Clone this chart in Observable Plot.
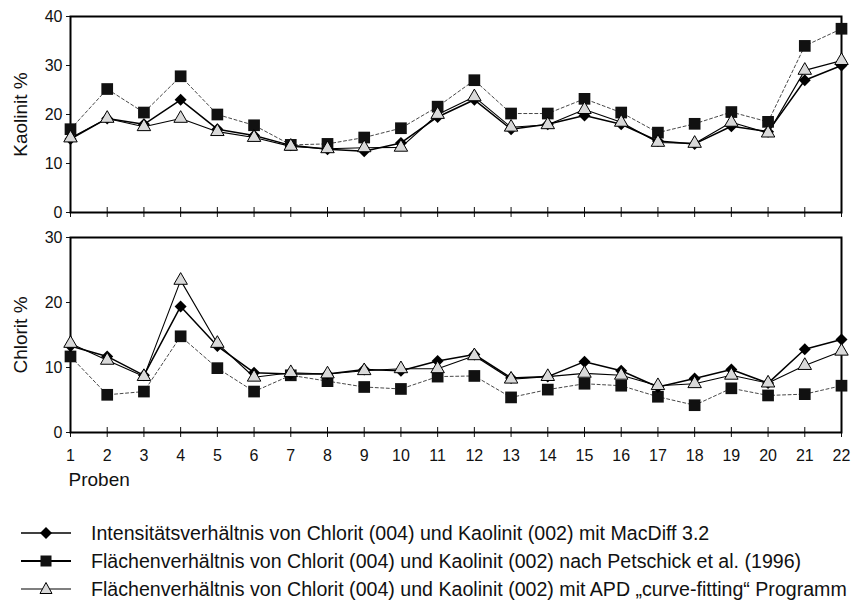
<!DOCTYPE html>
<html>
<head>
<meta charset="utf-8">
<script src="https://cdn.jsdelivr.net/npm/d3@7"></script>
<script src="https://cdn.jsdelivr.net/npm/@observablehq/plot@0.6"></script>
<style>
  body { margin: 0; background: #fff; font-family: "Liberation Sans", Arial, Helvetica, sans-serif; }
  #chart svg { display: block; }
  #legend { padding-top: 19px; }
  .row { display: flex; align-items: center; height: 28px; }
  .row svg { display: block; margin-left: 20px; }
  .row span { margin-left: 19px; font-size: 19.6px; color: #111; white-space: nowrap; }
</style>
</head>
<body>
<div id="chart"></div>
<div id="legend"></div>
<script>
// ---- data ----
const samples = [1, 2, 3, 4, 5, 6, 7, 8, 9, 10, 11, 12, 13, 14, 15, 16, 17, 18, 19, 20, 21, 22];

const seriesNames = [
  "Intensitätsverhältnis von Chlorit (004) und Kaolinit (002) mit MacDiff 3.2",
  "Flächenverhältnis von Chlorit (004) und Kaolinit (002) nach Petschick et al. (1996)",
  "Flächenverhältnis von Chlorit (004) und Kaolinit (002) mit APD \u201Ecurve-fitting\u201C Programm"
];

// Kaolinit %
const kaolinitIntensity = [15, 19.2, 18, 23, 17, 15.7, 13.7, 12.9, 12.5, 14.2, 19.5, 23, 17, 18, 19.8, 18, 14.6, 14, 17.6, 16.5, 27, 30];
const kaolinitPetschick = [17, 25.2, 20.4, 27.8, 20, 17.8, 13.8, 14, 15.3, 17.2, 21.6, 27, 20.2, 20.2, 23.2, 20.4, 16.3, 18.1, 20.5, 18.5, 34, 37.5];
const kaolinitAPD       = [15.2, 19.2, 17.5, 19.2, 16.5, 15.3, 13.5, 13, 13.2, 13.3, 20, 23.6, 17.4, 17.9, 21, 18.4, 14.3, 14.1, 18.4, 16.2, 29, 31];

// Chlorit %
const chloritIntensity = [13.3, 11.7, 8.8, 19.4, 13.3, 9.2, 9, 9, 9.7, 9.5, 11, 12, 8.4, 8.6, 10.9, 9.5, 7, 8.3, 9.7, 7.6, 12.8, 14.3];
const chloritPetschick = [11.7, 5.8, 6.3, 14.8, 9.9, 6.3, 8.8, 7.9, 7, 6.7, 8.6, 8.7, 5.4, 6.6, 7.5, 7.2, 5.5, 4.2, 6.8, 5.7, 5.9, 7.2];
const chloritAPD       = [13.7, 11.1, 8.6, 23.4, 13.7, 8.5, 9.2, 9, 9.5, 9.8, 9.8, 11.8, 8.2, 8.6, 9.1, 8.8, 7.2, 7.5, 8.8, 7.6, 10.3, 12.5];

const kaolinitTicks = [0, 10, 20, 30, 40];
const chloritTicks = [0, 10, 20, 30];

// ---- styles ----
const FONT = '"Liberation Sans", Arial, Helvetica, sans-serif';
const triFill = "#d9d9d9";

function panel({intens, pet, apd, yDomain, yTicks, yLabel, height, marginTop, marginBottom, labels}) {
  const rows = a => samples.map((s, i) => ({x: s, y: a[i]}));
  const dI = rows(intens), dP = rows(pet), dA = rows(apd);
  const marks = [
    Plot.axisY({ticks: yTicks, tickSize: 4, tickPadding: 4, label: null, fontSize: 16}),
    Plot.axisX({ticks: samples, tickSize: 10, dy: -5, tickFormat: () => "", label: null}),
    labels
      ? Plot.axisX({ticks: samples, tickSize: 0, tickPadding: 17, label: null, fontSize: 16})
      : null,
    Plot.line(dP, {x: "x", y: "y", stroke: "#333", strokeWidth: 0.9, strokeDasharray: "3,2.5"}),
    Plot.line(dA, {x: "x", y: "y", stroke: "#000", strokeWidth: 1.1}),
    Plot.line(dI, {x: "x", y: "y", stroke: "#000", strokeWidth: 1.5}),
    Plot.frame({stroke: "#000", strokeWidth: 2}),
    Plot.dot(dP, {x: "x", y: "y", symbol: "square", r: 6.6, fill: "#111", stroke: "none"}),
    Plot.dot(dI, {x: "x", y: "y", symbol: "diamond2", r: 5.4, fill: "#000", stroke: "none"}),
    Plot.dot(dA, {x: "x", y: "y", symbol: "triangle", r: 5.0, fill: triFill, stroke: "#000", strokeWidth: 1}),
    Plot.text([yLabel], {frameAnchor: "left", textAnchor: "middle", rotate: -90, dx: -50, fontSize: 19, fill: "#111"}),
    labels
      ? Plot.text(["Proben"], {frameAnchor: "bottom-left", dy: 53, dx: -2, textAnchor: "start", fontSize: 19, fill: "#111"})
      : null
  ].filter(Boolean);
  return Plot.plot({
    width: 855,
    height,
    marginLeft: 70,
    marginRight: 14,
    marginTop,
    marginBottom,
    style: {fontFamily: FONT, fontSize: "16px", color: "#111", background: "#fff", overflow: "visible"},
    x: {type: "linear", domain: [1, 22], axis: null},
    y: {domain: yDomain, axis: null},
    marks
  });
}

const chart = document.getElementById("chart");
chart.append(panel({
  intens: kaolinitIntensity, pet: kaolinitPetschick, apd: kaolinitAPD,
  yDomain: [0, 40], yTicks: kaolinitTicks, yLabel: "Kaolinit %",
  height: 220, marginTop: 16, marginBottom: 8, labels: false
}));
chart.append(panel({
  intens: chloritIntensity, pet: chloritPetschick, apd: chloritAPD,
  yDomain: [0, 30], yTicks: chloritTicks, yLabel: "Chlorit %",
  height: 280, marginTop: 17, marginBottom: 68, labels: true
}));

// ---- legend ----
const legend = document.getElementById("legend");
const swatches = [
  {w: 1.5, marker: `<path d="M25,4 L31,10 L25,16 L19,10 Z" fill="#000"/>`},
  {w: 1.8, marker: `<rect x="19.5" y="4.5" width="11" height="11" fill="#111"/>`},
  {w: 1.1, marker: `<path d="M25,3.5 L31,14.5 L19,14.5 Z" fill="${triFill}" stroke="#000" stroke-width="1"/>`}
];
seriesNames.forEach((name, i) => {
  const s = swatches[i];
  const row = document.createElement("div");
  row.className = "row";
  row.innerHTML = `<svg width="52" height="20" viewBox="0 0 50 20"><line x1="0" y1="10" x2="50" y2="10" stroke="#000" stroke-width="${s.w}"/>${s.marker}</svg><span>${name}</span>`;
  legend.append(row);
});
</script>
</body>
</html>
